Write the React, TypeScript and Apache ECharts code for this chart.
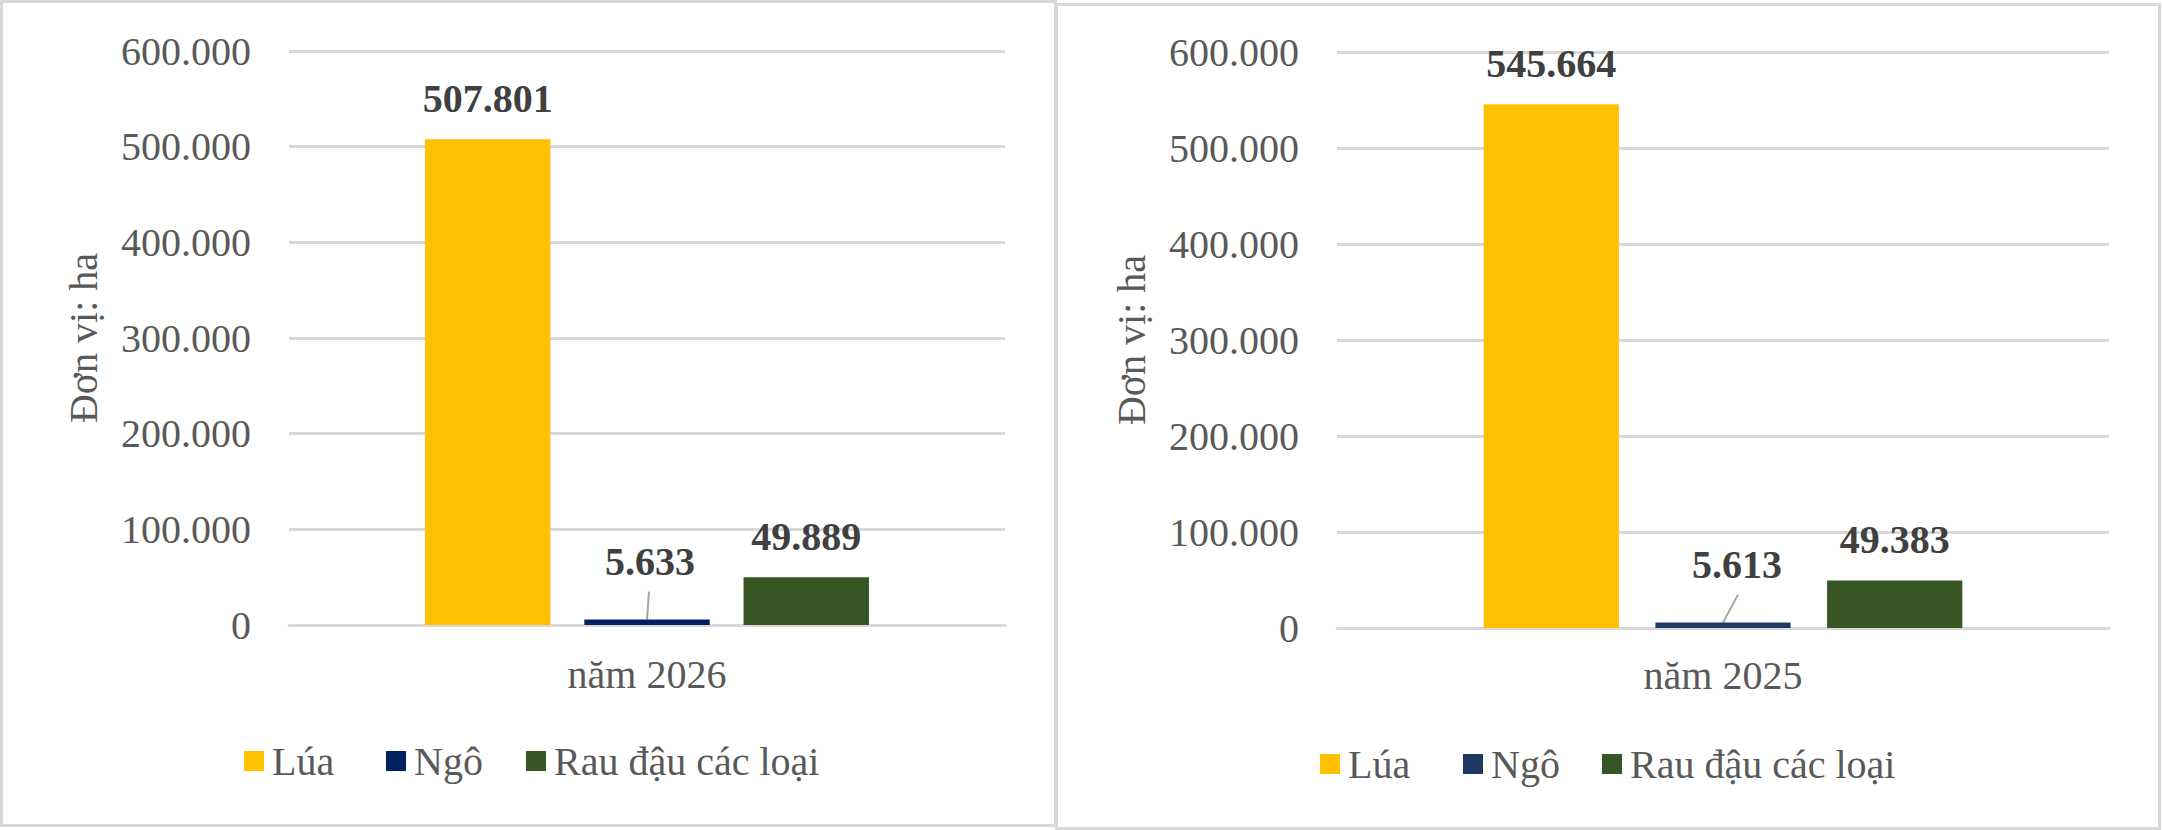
import React, { useEffect, useRef } from 'react';
import * as echarts from 'echarts';

const seriesNames = ['Lúa', 'Ngô', 'Rau đậu các loại'];
const categoriesLeft = ['năm 2026'];
const categoriesRight = ['năm 2025'];
const valuesLeft = [507801, 5633, 49889];
const valuesRight = [545664, 5613, 49383];
const colorsLeft = ['#FFC000', '#002060', '#375623'];
const colorsRight = ['#FFC000', '#1F3864', '#375623'];
const yMin = 0;
const yMax = 600000;
const yInterval = 100000;
const yAxisTitle = 'Đơn vị: ha';

const FONT = "'Liberation Serif', 'Times New Roman', Times, serif";
const fmt = (v: number) => String(Math.round(v)).replace(/\B(?=(\d{3})+(?!\d))/g, '.');

function buildAxes(gridIndex: number, cats: string[], labelMargin: number, nameGap: number) {
  const x = {
    type: 'category',
    gridIndex,
    data: cats,
    axisLine: { show: true, lineStyle: { color: '#D9D9D9', width: 3 } },
    axisTick: { show: false },
    axisLabel: { margin: labelMargin, fontFamily: FONT, fontSize: 40, color: '#595959' },
  };
  const y = {
    type: 'value',
    gridIndex,
    min: yMin,
    max: yMax,
    interval: yInterval,
    axisLine: { show: false },
    axisTick: { show: false },
    splitLine: { show: true, lineStyle: { color: '#D9D9D9', width: 3 } },
    axisLabel: { margin: 38, fontFamily: FONT, fontSize: 40, color: '#595959', formatter: (v: number) => fmt(v) },
    name: yAxisTitle,
    nameLocation: 'middle',
    nameGap,
    nameRotate: 90,
    nameTextStyle: { fontFamily: FONT, fontSize: 40, color: '#595959' },
  };
  return { x, y };
}

function buildSeries(idx: number, values: number[], colors: string[], ngoOffset: number[]) {
  return values.map((v, i) => ({
    type: 'bar',
    name: seriesNames[i],
    xAxisIndex: idx,
    yAxisIndex: idx,
    data: [v],
    barGap: '27%',
    barCategoryGap: '38%',
    itemStyle: { color: colors[i] },
    label: {
      show: true,
      position: 'top',
      distance: 21,
      offset: i === 1 ? ngoOffset : [0, 0],
      fontFamily: FONT,
      fontSize: 40,
      fontWeight: 'bold',
      color: '#404040',
      formatter: (p: any) => fmt(p.value),
    },
  }));
}

function buildLegends(lefts: number[], top: number, colors: string[]) {
  return seriesNames.map((n, i) => ({
    left: lefts[i],
    top,
    padding: 0,
    icon: 'rect',
    itemWidth: 20,
    itemHeight: 20,
    selectedMode: false,
    textStyle: { fontFamily: FONT, fontSize: 40, color: '#595959', padding: [0, 0, 0, 3] },
    data: [{ name: n, itemStyle: { color: colors[i] } }],
  }));
}

export default function App() {
  const ref = useRef<HTMLDivElement>(null);
  useEffect(() => {
    if (!ref.current) return;
    const chart = echarts.init(ref.current, undefined, { renderer: 'svg' });
    const a0 = buildAxes(0, categoriesLeft, 29, 186);
    const a1 = buildAxes(1, categoriesRight, 27, 186);
    const option: any = {
      animation: false,
      backgroundColor: '#FFFFFF',
      textStyle: { fontFamily: FONT },
      grid: [
        { left: 289, top: 51, width: 716, height: 574 },
        { left: 1337, top: 52, width: 772, height: 576 },
      ],
      xAxis: [a0.x, a1.x],
      yAxis: [a0.y, a1.y],
      legend: [
        ...buildLegends([244, 386, 526], 741, colorsLeft),
        ...buildLegends([1320, 1463, 1602], 744, colorsRight),
      ],
      series: [
        ...buildSeries(0, valuesLeft, colorsLeft, [3, -17]),
        ...buildSeries(1, valuesRight, colorsRight, [14, -17]),
      ],
    };
    chart.setOption(option);
    const pL = chart.convertToPixel({ gridIndex: 0 } as any, [categoriesLeft[0], valuesLeft[1]]) as number[];
    const pR = chart.convertToPixel({ gridIndex: 1 } as any, [categoriesRight[0], valuesRight[1]]) as number[];
    const leader = { stroke: '#A6A6A6', lineWidth: 2 };
    chart.setOption({
      graphic: [
        { type: 'rect', shape: { x: 1.5, y: 1.5, width: 1054, height: 824 }, style: { fill: 'none', stroke: '#D9D9D9', lineWidth: 3 }, silent: true },
        { type: 'rect', shape: { x: 1056.5, y: 4.5, width: 1103, height: 824 }, style: { fill: 'none', stroke: '#D9D9D9', lineWidth: 3 }, silent: true },
        { type: 'line', shape: { x1: pL[0], y1: pL[1], x2: pL[0] + 2, y2: pL[1] - 28 }, style: leader, silent: true },
        { type: 'line', shape: { x1: pR[0], y1: pR[1], x2: pR[0] + 15, y2: pR[1] - 28 }, style: leader, silent: true },
      ],
    });
    return () => chart.dispose();
  }, []);
  return (
    <div
      ref={ref}
      style={{ position: 'absolute', left: 0, top: 0, width: 2162, height: 830, background: '#FFFFFF' }}
    />
  );
}
